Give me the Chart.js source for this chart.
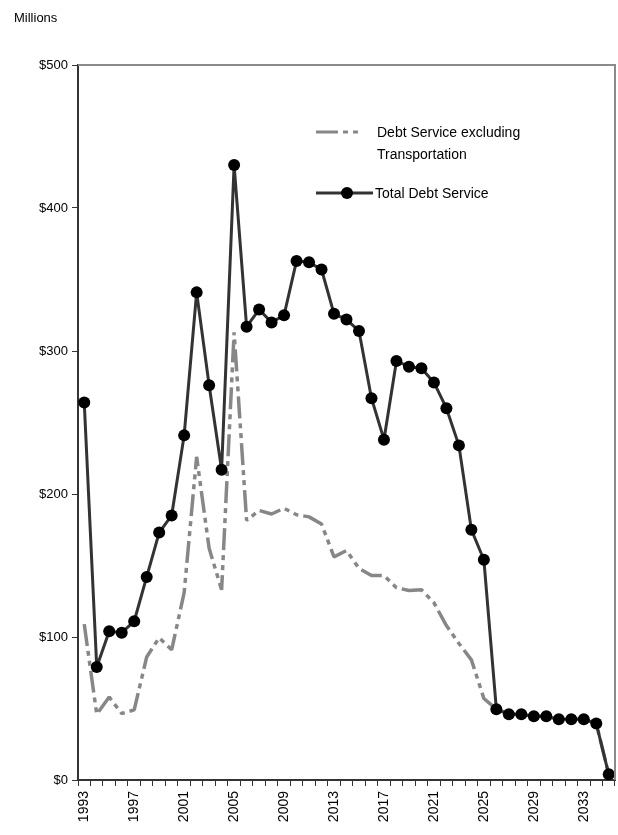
<!DOCTYPE html>
<html lang="en">
<head>
    <meta charset="UTF-8">
    <title>Debt Service</title>
    <script src="https://cdn.jsdelivr.net/npm/chart.js"></script>
    <style>
        html, body { margin: 0; padding: 0; background: #fff; }
        body { width: 618px; height: 835px; position: relative; overflow: hidden;
               font-family: "Liberation Sans", Arial, sans-serif; color: #000; }
        #chart-container { position: absolute; left: 0; top: 0; width: 618px; height: 835px; }
        .unit { position: absolute; left: 14px; top: 10px; font-size: 13px; }
        .legend { position: absolute; font-size: 14px; line-height: 22px; }
        .legend svg { position: absolute; }
    </style>
</head>
<body>
    <div id="chart-container">
        <canvas id="debtChart" width="618" height="835"></canvas>
    </div>
    <div class="unit">Millions</div>
    <div class="legend" style="left:316px; top:121px;">
        <svg width="50" height="10" style="left:0; top:6px;">
            <line x1="0" y1="5" x2="47" y2="5" stroke="#878787" stroke-width="3" stroke-dasharray="22,5,5,5,5,5"/>
        </svg>
        <div style="position:absolute; left:61px; top:0; white-space:nowrap;">Debt Service excluding<br>Transportation</div>
    </div>
    <div class="legend" style="left:316px; top:182px;">
        <svg width="58" height="14" style="left:0; top:4px;">
            <line x1="0" y1="7" x2="57" y2="7" stroke="#333" stroke-width="3"/>
            <circle cx="31" cy="7" r="6" fill="#000"/>
        </svg>
        <div style="position:absolute; left:59px; top:0; white-space:nowrap;">Total Debt Service</div>
    </div>

    <script>
        const years = [];
        for (let y = 1993; y <= 2035; y++) years.push(String(y));

        const totalDebtService = [
            264, 79, 104, 103, 111, 142, 173, 185, 241, 341,
            276, 217, 430, 317, 329, 320, 325, 363, 362, 357,
            326, 322, 314, 267, 238, 293, 289, 288, 278, 260,
            234, 175, 154, 49.5, 46, 46, 44.5, 44.5, 42.5, 42.5,
            42.5, 39.5, 4
        ];

        const debtExTransportation = [
            109, 46, 58, 46.5, 49, 86, 99.5, 91, 131, 226,
            162, 133, 313, 181.5, 188.5, 186, 190, 185.5, 184, 179,
            156, 160.5, 148, 143, 143, 134.5, 132.5, 133, 124, 108,
            95.5, 84, 57, 49.5, 46, 46, 44.5, 44.5, 42.5, 42.5,
            42.5, 39.5, 4
        ];

        const yTicks = [0, 100, 200, 300, 400, 500];

        const frameLines = {
            id: 'frameLines',
            afterDraw(chart) {
                const { ctx, chartArea: a } = chart;
                ctx.save();
                ctx.strokeStyle = '#8a8a8a';
                ctx.lineWidth = 2;
                ctx.beginPath();
                ctx.moveTo(a.left, a.top);
                ctx.lineTo(a.right, a.top);
                ctx.lineTo(a.right, a.bottom);
                ctx.stroke();
                ctx.restore();
            }
        };

        const ctx = document.getElementById('debtChart').getContext('2d');
        new Chart(ctx, {
            type: 'line',
            data: {
                labels: years,
                datasets: [{
                    label: 'Debt Service excluding Transportation',
                    data: debtExTransportation,
                    borderColor: '#878787',
                    borderWidth: 3.5,
                    borderDash: [22, 5, 5, 5, 5, 5],
                    borderJoinStyle: 'bevel',
                    pointRadius: 0,
                    tension: 0,
                    fill: false,
                    order: 2
                }, {
                    label: 'Total Debt Service',
                    data: totalDebtService,
                    borderColor: '#333333',
                    borderWidth: 3,
                    borderJoinStyle: 'bevel',
                    pointRadius: 6,
                    pointBackgroundColor: '#000',
                    pointBorderColor: '#000',
                    pointBorderWidth: 0,
                    tension: 0,
                    fill: false,
                    clip: false,
                    order: 1
                }]
            },
            options: {
                responsive: false,
                animation: false,
                devicePixelRatio: 1,
                layout: { autoPadding: false, padding: { top: 65, right: 3, left: 0, bottom: 0 } },
                plugins: {
                    legend: { display: false },
                    tooltip: { enabled: false }
                },
                scales: {
                    x: {
                        offset: true,
                        afterFit(scale) {
                            scale.height = 55;
                            scale.paddingLeft = 0;
                            scale.paddingRight = 0;
                        },
                        grid: {
                            offset: true,
                            drawOnChartArea: false,
                            drawTicks: true,
                            tickLength: 6,
                            color: '#333',
                            lineWidth: 1
                        },
                        border: { color: '#333', width: 2 },
                        ticks: {
                            autoSkip: false,
                            minRotation: 90,
                            maxRotation: 90,
                            padding: 5,
                            color: '#000',
                            font: { family: 'Liberation Sans', size: 14 },
                            callback: function (value, index) {
                                return index % 4 === 0 ? years[index] : '';
                            }
                        }
                    },
                    y: {
                        min: 0,
                        max: 500,
                        afterFit(scale) {
                            scale.width = 78;
                            scale.paddingTop = 0;
                            scale.paddingBottom = 0;
                        },
                        afterBuildTicks(scale) {
                            scale.ticks = yTicks.map(v => ({ value: v }));
                        },
                        grid: {
                            drawOnChartArea: false,
                            drawTicks: true,
                            tickLength: 6,
                            color: '#333'
                        },
                        border: { color: '#333', width: 2 },
                        ticks: {
                            padding: 4,
                            color: '#000',
                            font: { family: 'Liberation Sans', size: 13 },
                            callback: v => '$' + v
                        }
                    }
                }
            },
            plugins: [frameLines]
        });
    </script>
</body>
</html>
